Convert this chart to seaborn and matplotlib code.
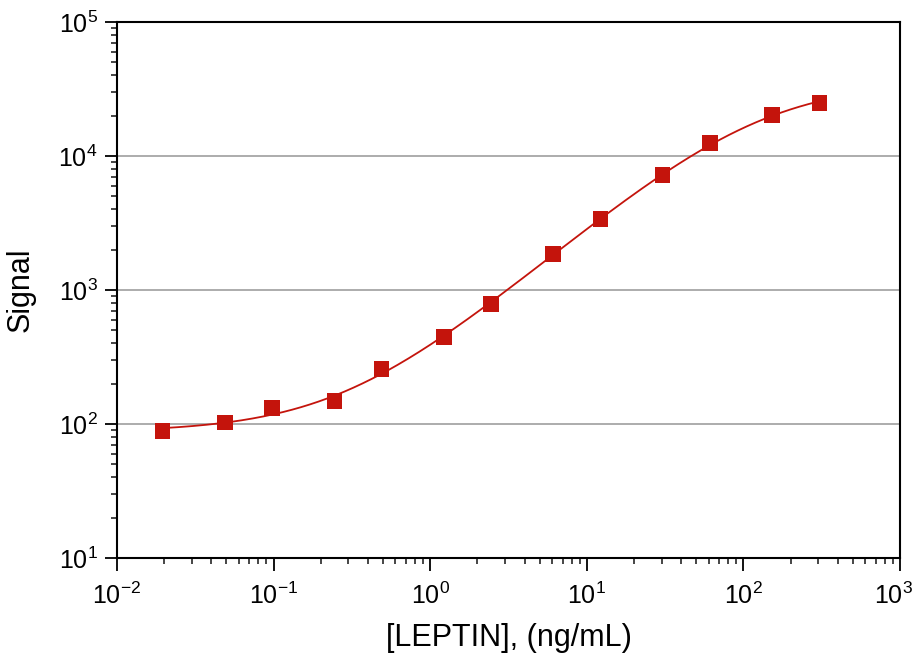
import numpy as np
import pandas as pd
import matplotlib
matplotlib.use("Agg")
import matplotlib.pyplot as plt
import matplotlib.transforms as mtransforms
import seaborn as sns
from matplotlib.ticker import LogLocator, NullFormatter

# Data
concentration = [0.0195, 0.0488, 0.0977, 0.244, 0.488, 1.22, 2.44, 6.1, 12.2, 30.5, 61, 152.5, 305]
signal = [89, 103, 132, 149, 257, 446, 787, 1860, 3390, 7220, 12500, 20200, 24900]

x_label = "[LEPTIN], (ng/mL)"
y_label = "Signal"

# 4-parameter logistic fit of the data (curve drawn in the reference)
x = np.array(concentration, float)
y = np.array(signal, float)
best = None
for lc in np.linspace(0.5, 3.0, 251):
    for b in np.linspace(0.6, 1.8, 121):
        s = 1.0 / (1.0 + (x / 10 ** lc) ** b)
        A = np.column_stack([s, 1 - s]) / y[:, None]
        coef, *_ = np.linalg.lstsq(A, np.ones_like(y), rcond=None)
        m = A @ coef * y
        if np.any(m <= 0):
            continue
        r = np.sum((np.log10(m) - np.log10(y)) ** 2)
        if best is None or r < best[0]:
            best = (r, lc, b, coef)
_, lc, b, (a_lo, d_hi) = best
xf = np.logspace(np.log10(x.min()), np.log10(x.max()), 300)
sf = 1.0 / (1.0 + (xf / 10 ** lc) ** b)
fit = pd.DataFrame({"x": xf, "y": a_lo * sf + d_hi * (1 - sf)})
pts = pd.DataFrame({"x": concentration, "y": signal})

sns.set_style("ticks")
plt.rcParams["font.family"] = ["Liberation Sans", "DejaVu Sans"]
plt.rcParams["mathtext.default"] = "regular"
plt.rcParams["axes.unicode_minus"] = False
plt.rcParams["text.color"] = "black"
plt.rcParams["axes.labelcolor"] = "black"

fig = plt.figure(figsize=(9.17, 6.56), dpi=100)
ax = fig.add_axes([0.1276, 0.1494, 0.8539, 0.8171])

red = "#c4140c"
sns.lineplot(data=fit, x="x", y="y", ax=ax, color=red, lw=1.3, zorder=3)
sns.scatterplot(data=pts, x="x", y="y", ax=ax, color=red, marker="s", s=125,
                edgecolor="none", zorder=4)

ax.set_xscale("log")
ax.set_yscale("log")
ax.set_xlim(1e-2, 1e3)
ax.set_ylim(1e1, 1e5)
ax.xaxis.set_major_locator(LogLocator(base=10, numticks=10))
ax.yaxis.set_major_locator(LogLocator(base=10, numticks=10))
ax.xaxis.set_minor_locator(LogLocator(base=10, subs=np.arange(2, 10), numticks=20))
ax.yaxis.set_minor_locator(LogLocator(base=10, subs=np.arange(2, 10), numticks=20))
ax.xaxis.set_minor_formatter(NullFormatter())
ax.yaxis.set_minor_formatter(NullFormatter())

ax.grid(False)
for v in [1e2, 1e3, 1e4]:
    ax.axhline(v, color="#a6a6a6", lw=1.3, zorder=1)

for sp in ax.spines.values():
    sp.set_visible(True)
    sp.set_color("black")
    sp.set_linewidth(1.5)

ax.tick_params(axis="both", which="major", direction="out", length=9, width=1.3,
               labelsize=18, colors="black", pad=5)
ax.tick_params(axis="both", which="minor", direction="out", length=4.5, width=1.2)
ax.tick_params(axis="x", which="major", pad=9)

ax.set_xlabel(x_label, fontsize=22, labelpad=10)
ax.set_ylabel(y_label, fontsize=22, labelpad=16)

# keep the 10^3 x tick label inside the canvas
fig.canvas.draw()
for t in ax.get_xticklabels():
    if np.isclose(t.get_position()[0], 1e3):
        t.set_transform(t.get_transform() +
                        mtransforms.ScaledTranslation(-5 / 72, 0, fig.dpi_scale_trans))

fig.savefig("out.png", dpi=100)
